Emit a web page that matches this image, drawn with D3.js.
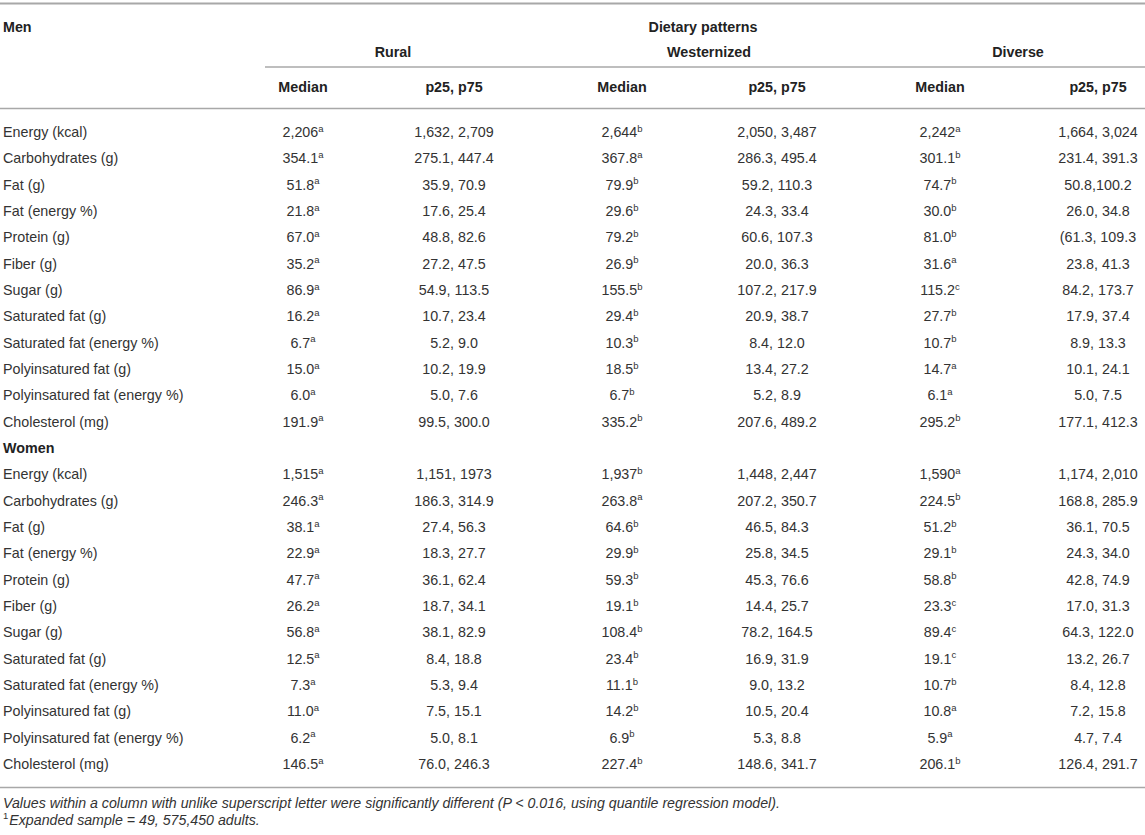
<!DOCTYPE html>
<html><head><meta charset="utf-8">
<script src="https://cdn.jsdelivr.net/npm/d3@7"></script>
<style>
html,body{margin:0;padding:0;background:#fff;}
svg{display:block;font-family:"Liberation Sans",Arial,Helvetica,sans-serif;}
</style></head>
<body><svg id="c" width="1145" height="835"></svg>
<script>
// ---------- DATA ----------
const nutrients = ["Energy (kcal)","Carbohydrates (g)","Fat (g)","Fat (energy %)","Protein (g)","Fiber (g)","Sugar (g)","Saturated fat (g)","Saturated fat (energy %)","Polyinsatured fat (g)","Polyinsatured fat (energy %)","Cholesterol (mg)"];
const sexes = ["Men","Women"];
const patterns = ["Rural","Westernized","Diverse"];
const subHeaders = ["Median","p25, p75"];
const superTitle = "Dietary patterns";

const menRuralMedian = ["2,206","354.1","51.8","21.8","67.0","35.2","86.9","16.2","6.7","15.0","6.0","191.9"];
const menRuralSig    = ["a","a","a","a","a","a","a","a","a","a","a","a"];
const menRuralIQR    = ["1,632, 2,709","275.1, 447.4","35.9, 70.9","17.6, 25.4","48.8, 82.6","27.2, 47.5","54.9, 113.5","10.7, 23.4","5.2, 9.0","10.2, 19.9","5.0, 7.6","99.5, 300.0"];
const menWestMedian  = ["2,644","367.8","79.9","29.6","79.2","26.9","155.5","29.4","10.3","18.5","6.7","335.2"];
const menWestSig     = ["b","a","b","b","b","b","b","b","b","b","b","b"];
const menWestIQR     = ["2,050, 3,487","286.3, 495.4","59.2, 110.3","24.3, 33.4","60.6, 107.3","20.0, 36.3","107.2, 217.9","20.9, 38.7","8.4, 12.0","13.4, 27.2","5.2, 8.9","207.6, 489.2"];
const menDivMedian   = ["2,242","301.1","74.7","30.0","81.0","31.6","115.2","27.7","10.7","14.7","6.1","295.2"];
const menDivSig      = ["a","b","b","b","b","a","c","b","b","a","a","b"];
const menDivIQR      = ["1,664, 3,024","231.4, 391.3","50.8,100.2","26.0, 34.8","(61.3, 109.3","23.8, 41.3","84.2, 173.7","17.9, 37.4","8.9, 13.3","10.1, 24.1","5.0, 7.5","177.1, 412.3"];

const womenRuralMedian = ["1,515","246.3","38.1","22.9","47.7","26.2","56.8","12.5","7.3","11.0","6.2","146.5"];
const womenRuralSig    = ["a","a","a","a","a","a","a","a","a","a","a","a"];
const womenRuralIQR    = ["1,151, 1973","186.3, 314.9","27.4, 56.3","18.3, 27.7","36.1, 62.4","18.7, 34.1","38.1, 82.9","8.4, 18.8","5.3, 9.4","7.5, 15.1","5.0, 8.1","76.0, 246.3"];
const womenWestMedian  = ["1,937","263.8","64.6","29.9","59.3","19.1","108.4","23.4","11.1","14.2","6.9","227.4"];
const womenWestSig     = ["b","a","b","b","b","b","b","b","b","b","b","b"];
const womenWestIQR     = ["1,448, 2,447","207.2, 350.7","46.5, 84.3","25.8, 34.5","45.3, 76.6","14.4, 25.7","78.2, 164.5","16.9, 31.9","9.0, 13.2","10.5, 20.4","5.3, 8.8","148.6, 341.7"];
const womenDivMedian   = ["1,590","224.5","51.2","29.1","58.8","23.3","89.4","19.1","10.7","10.8","5.9","206.1"];
const womenDivSig      = ["a","b","b","b","b","c","c","c","b","a","a","b"];
const womenDivIQR      = ["1,174, 2,010","168.8, 285.9","36.1, 70.5","24.3, 34.0","42.8, 74.9","17.0, 31.3","64.3, 122.0","13.2, 26.7","8.4, 12.8","7.2, 15.8","4.7, 7.4","126.4, 291.7"];

const footnote1 = "Values within a column with unlike superscript letter were significantly different (P < 0.016, using quantile regression model).";
const footnote2Sup = "1";
const footnote2 = "Expanded sample = 49, 575,450 adults.";

// ---------- BUILD TABLE ----------
const table = {
  Men:   [[menRuralMedian,menRuralSig,menRuralIQR],[menWestMedian,menWestSig,menWestIQR],[menDivMedian,menDivSig,menDivIQR]],
  Women: [[womenRuralMedian,womenRuralSig,womenRuralIQR],[womenWestMedian,womenWestSig,womenWestIQR],[womenDivMedian,womenDivSig,womenDivIQR]]
};
const rows = [];
sexes.forEach((s,si)=>{
  if(si>0) rows.push({type:"group",label:s});
  nutrients.forEach((n,i)=>{
    const cells=[];
    patterns.forEach((p,pi)=>{
      const [med,sig,iqr]=table[s][pi];
      cells.push({col:p+"|0",text:med[i],sup:sig[i]});
      cells.push({col:p+"|1",text:iqr[i]});
    });
    rows.push({type:"data",label:n,cells});
  });
});

const W=1145;
const svg=d3.select("#c");
const textCol="#333", headCol="#222", ruleCol="#a8a8a8";
const fs=14.3;

// row scale
const y=d3.scalePoint().domain(d3.range(rows.length)).range([132,764]);
// column scale (centers)
const colKeys=[];
patterns.forEach(p=>{colKeys.push(p+"|0");colKeys.push(p+"|1");});
const x=d3.scaleOrdinal().domain(colKeys).range([303,454,622,777,940,1098]);
const groupX=d3.scaleOrdinal().domain(patterns).range([393,709,1018]);

// rules
const rule=(y0,x0,x1,w)=>svg.append("line").attr("x1",x0).attr("x2",x1).attr("y1",y0).attr("y2",y0).attr("stroke",ruleCol).attr("stroke-width",w);
rule(3.5,0,W,2);
rule(67,265,W,1.5);
rule(108.5,0,W,1.5);
rule(787.5,0,W,1.5);

// headers
svg.append("text").attr("x",3).attr("y",27).attr("dy","0.35em").attr("font-weight","bold").attr("font-size",fs).attr("fill",headCol).text(sexes[0]);
svg.append("text").attr("x",703).attr("y",27).attr("dy","0.35em").attr("text-anchor","middle").attr("font-weight","bold").attr("font-size",fs).attr("fill",headCol).text(superTitle);
svg.selectAll("text.grp").data(patterns).join("text").attr("class","grp")
  .attr("x",d=>groupX(d)).attr("y",52).attr("dy","0.35em").attr("text-anchor","middle")
  .attr("font-weight","bold").attr("font-size",fs).attr("fill",headCol).text(d=>d);
svg.selectAll("text.sub").data(colKeys).join("text").attr("class","sub")
  .attr("x",d=>x(d)).attr("y",87).attr("dy","0.35em").attr("text-anchor","middle")
  .attr("font-weight","bold").attr("font-size",fs).attr("fill",headCol).text(d=>subHeaders[+d.split("|")[1]]);

// rows
const rg=svg.selectAll("g.row").data(rows).join("g").attr("class","row")
  .attr("transform",(d,i)=>`translate(0,${y(i)})`);
rg.append("text").attr("x",3).attr("dy","0.35em").attr("font-size",fs)
  .attr("font-weight",d=>d.type==="group"?"bold":null)
  .attr("fill",d=>d.type==="group"?headCol:textCol).text(d=>d.label);
rg.filter(d=>d.type==="data").each(function(d){
  const g=d3.select(this);
  d.cells.forEach(c=>{
    const t=g.append("text").attr("x",x(c.col)).attr("dy","0.35em").attr("text-anchor","middle")
      .attr("font-size",fs).attr("fill",textCol);
    t.append("tspan").text(c.text);
    if(c.sup) t.append("tspan").attr("font-size",9.5).attr("dy","-0.55em").text(c.sup);
  });
});

// footnotes
svg.append("text").attr("x",3).attr("y",803).attr("dy","0.35em").attr("font-size",14.2).attr("font-style","italic").attr("fill",textCol).text(footnote1);
const f2=svg.append("text").attr("x",3).attr("y",823).attr("dy","0.35em").attr("font-size",14.2).attr("font-style","italic").attr("fill",textCol);
f2.append("tspan").attr("font-size",9.5).attr("dy","-0.45em").attr("font-style","normal").text(footnote2Sup);
f2.append("tspan").attr("dy","0.45em").attr("dx",1).text(footnote2);
</script>
</body></html>
